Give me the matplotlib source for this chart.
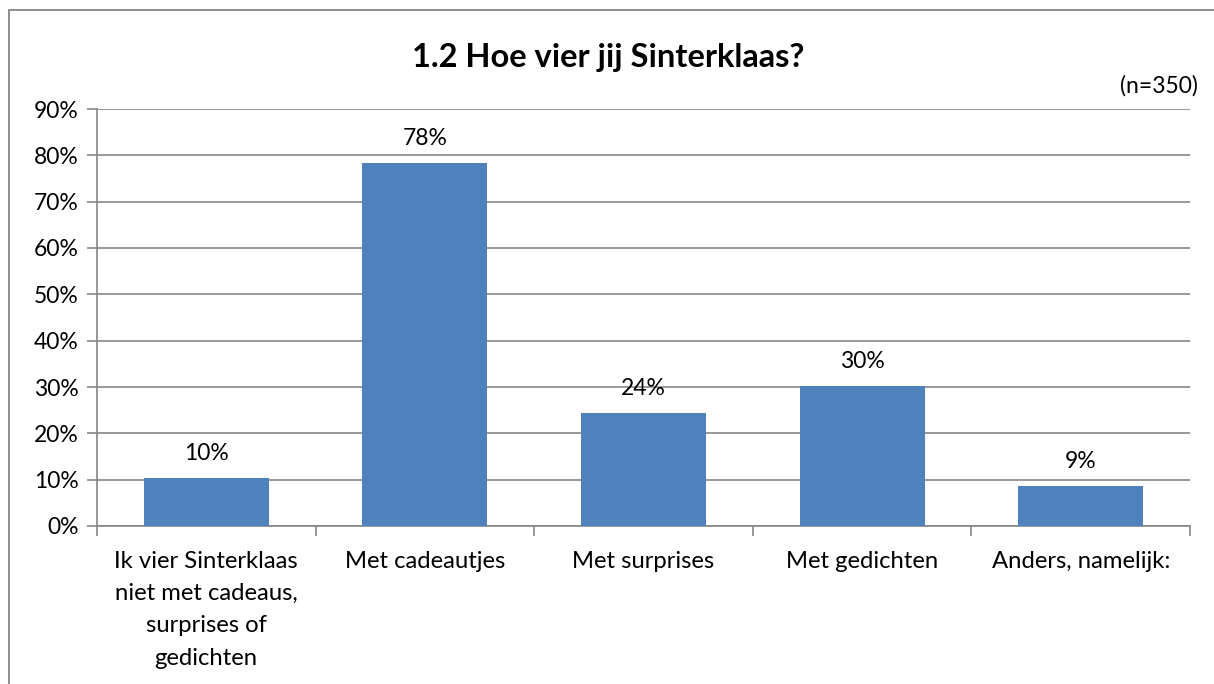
import matplotlib
matplotlib.use("Agg")
import matplotlib.pyplot as plt
from matplotlib.patches import Rectangle

categories = ["Ik vier Sinterklaas\nniet met cadeaus,\nsurprises of\ngedichten",
              "Met cadeautjes", "Met surprises", "Met gedichten", "Anders, namelijk:"]
values = [10.3, 78.3, 24.4, 30.3, 8.7]
labels = ["10%", "78%", "24%", "30%", "9%"]
yticks = [0, 10, 20, 30, 40, 50, 60, 70, 80, 90]

plt.rcParams['font.family'] = ['Lato', 'DejaVu Sans']

W, H = 1214, 684
fig = plt.figure(figsize=(W/100, H/100), dpi=100)
ax = fig.add_axes([97/W, 1-526/H, (1190-97)/W, (526-109)/H])

x = list(range(len(categories)))
ax.bar(x, values, width=0.572, color="#4F81BD", zorder=3)
for xi, v, l in zip(x, values, labels):
    ax.annotate(l, (xi, v), xytext=(0, 10), textcoords="offset points",
                ha="center", va="bottom", fontsize=16.5, color="#000000")

ax.set_xlim(-0.5, len(categories) - 0.5)
ax.set_ylim(0, 90)
ax.set_yticks(yticks)
ax.set_yticklabels([f"{t}%" for t in yticks], fontsize=16.5)
ax.yaxis.grid(True, color="#868686", linewidth=1.2, zorder=0)
ax.set_xticks(x)
ax.set_xticklabels(categories, fontsize=17.2, linespacing=1.66, va="top")
ax.set_xticks([i + 0.5 for i in range(-1, len(categories))], minor=True)
ax.tick_params(axis="x", which="major", length=0, pad=18)
ax.tick_params(axis="x", which="minor", length=7, color="#868686", width=1.2)
ax.tick_params(axis="y", length=7, color="#868686", width=1.2, pad=6)
for s in ["top", "right"]:
    ax.spines[s].set_visible(False)
for s in ["left", "bottom"]:
    ax.spines[s].set_color("#868686")
    ax.spines[s].set_linewidth(1.2)

fig.text(608/W, 1-58/H, "1.2 Hoe vier jij Sinterklaas?", ha="center", va="center",
         fontsize=23.5, fontweight="bold")
fig.text(1198/W, 1-86/H, "(n=350)", ha="right", va="center", fontsize=16.5)

fig.patches.append(Rectangle((9/W, -0.1), 1.2, 1 - 10/H + 0.1, transform=fig.transFigure,
                             fill=False, edgecolor="#868686", linewidth=1.3))

fig.savefig("out.png", dpi=100)
